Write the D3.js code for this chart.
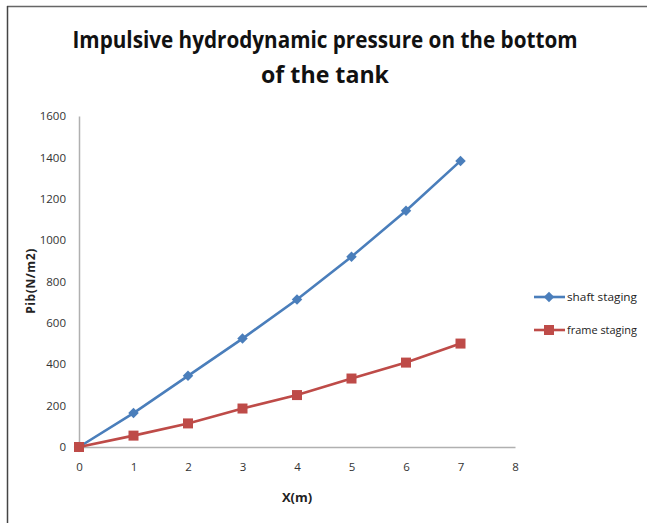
<!DOCTYPE html>
<html>
<head>
<meta charset="utf-8">
<script src="https://cdn.jsdelivr.net/npm/d3@7"></script>
<style>
  body { margin: 0; background: #fff; }
  text { font-family: "Open Sans", sans-serif; }
</style>
</head>
<body>
<main></main>
<script>
// Data
const xValues = [0, 1, 2, 3, 4, 5, 6, 7];
const shaftStaging = [0, 164, 344, 524, 713, 920, 1142, 1383];
const frameStaging = [0, 55, 114, 186, 251, 331, 408, 500];
const seriesNames = ["shaft staging", "frame staging"];
const xTicks = [0, 1, 2, 3, 4, 5, 6, 7, 8];
const yTicks = [0, 200, 400, 600, 800, 1000, 1200, 1400, 1600];

const width = 647, height = 523;
const margin = { top: 116, left: 79, right: 135, bottom: 76 };

const svg = d3.select("main").append("svg")
    .attr("width", width)
    .attr("height", height);

svg.append("rect").attr("width", width).attr("height", height).attr("fill", "#fff");

// frame edges (top and left only show in the picture)
svg.append("line").attr("x1", 7).attr("x2", width).attr("y1", 6.5).attr("y2", 6.5)
    .attr("stroke", "#666").attr("stroke-width", 1.5);
svg.append("line").attr("x1", 7.5).attr("x2", 7.5).attr("y1", 6).attr("y2", height)
    .attr("stroke", "#444").attr("stroke-width", 1.5);

// title
const title = svg.append("g").attr("font-weight", "bold").attr("fill", "#111")
    .attr("text-anchor", "middle");
title.append("text").attr("x", 325).attr("y", 48).attr("font-size", 23)
    .attr("textLength", 505).attr("lengthAdjust", "spacingAndGlyphs")
    .text("Impulsive hydrodynamic pressure on the bottom");
title.append("text").attr("x", 325).attr("y", 83).attr("font-size", 23)
    .attr("textLength", 128).attr("lengthAdjust", "spacingAndGlyphs")
    .text("of the tank");

let x = d3.scaleLinear().domain([0, 8]).range([margin.left, width - margin.right + 3]);
let y = d3.scaleLinear().domain([0, 1600]).range([height - margin.bottom, margin.top]);

// axes
const xAxis = svg.append("g")
    .attr("transform", "translate(0," + y(0) + ")")
    .call(d3.axisBottom(x).tickValues(xTicks).tickFormat(d3.format("d")).tickSize(0).tickPadding(16));
const yAxis = svg.append("g")
    .attr("transform", "translate(" + x(0) + ",0)")
    .call(d3.axisLeft(y).tickValues(yTicks).tickFormat(d3.format("d")).tickSize(0).tickPadding(13));

[xAxis, yAxis].forEach(a => {
    a.select(".domain").attr("stroke", "#b0b0b0").attr("stroke-width", 1.5);
    a.selectAll("text").attr("font-size", 11.5).attr("fill", "#333")
        .attr("font-family", "'Open Sans', sans-serif");
});

// axis titles
svg.append("text").attr("x", 297).attr("y", 502).attr("text-anchor", "middle")
    .attr("font-size", 13).attr("font-weight", "bold").attr("fill", "#222")
    .text("X(m)");
svg.append("text").attr("transform", "translate(35,281)rotate(-90)")
    .attr("text-anchor", "middle").attr("font-size", 12).attr("font-weight", "bold")
    .attr("fill", "#222").attr("letter-spacing", 0.6)
    .text("Pib(N/m2)");

const line = d3.line().x(d => x(d[0])).y(d => y(d[1]));
const colors = ["#4a7ebb", "#be4b48"];
const allSeries = [shaftStaging, frameStaging];

allSeries.forEach((vals, i) => {
    const pts = xValues.map((v, j) => [v, vals[j]]);
    svg.append("path").attr("d", line(pts)).attr("fill", "none")
        .attr("stroke", colors[i]).attr("stroke-width", 2.6);
});

function drawMarker(g, i, cx, cy) {
    if (i === 0) {
        g.append("path")
            .attr("d", d3.symbol(d3.symbolDiamond2, 70)())
            .attr("transform", "translate(" + cx + "," + cy + ")")
            .attr("fill", colors[0]);
    } else {
        g.append("rect").attr("x", cx - 5).attr("y", cy - 5)
            .attr("width", 10).attr("height", 10).attr("fill", colors[1]);
    }
}

const markers = svg.append("g");
allSeries.forEach((vals, i) => {
    xValues.forEach((v, j) => drawMarker(markers, i, x(v), y(vals[j])));
});

// legend
const legend = svg.append("g");
seriesNames.forEach((name, i) => {
    const ly = 297 + i * 33;
    legend.append("line").attr("x1", 534).attr("x2", 565).attr("y1", ly).attr("y2", ly)
        .attr("stroke", colors[i]).attr("stroke-width", 2.6);
    drawMarker(legend, i, 549, ly);
    legend.append("text").attr("x", 567).attr("y", ly + 4).attr("font-size", 11.5)
        .attr("textLength", 70).attr("lengthAdjust", "spacingAndGlyphs")
        .attr("fill", "#222").text(name);
});
</script>
</body>
</html>
